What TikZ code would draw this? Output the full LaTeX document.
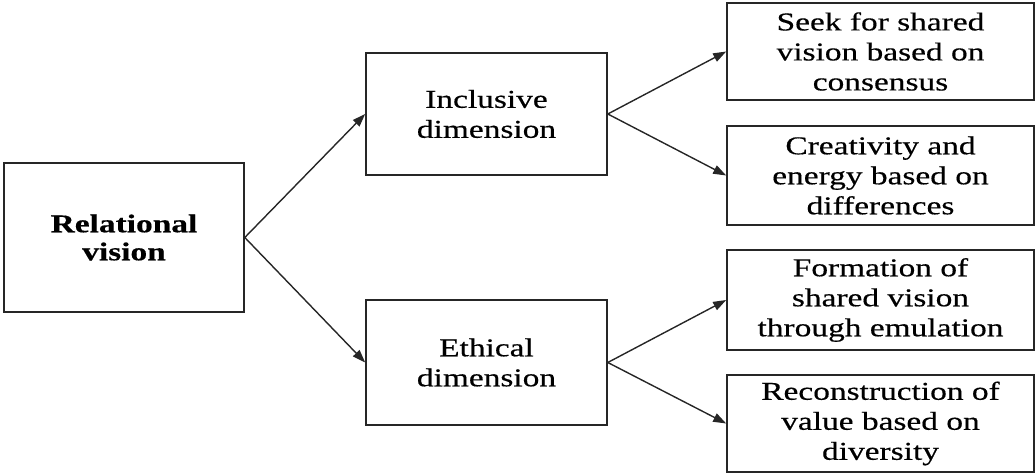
\documentclass[tikz,border=0pt]{standalone}
\usepackage{fontspec}
\setmainfont{Liberation Serif}[FakeStretch=1.3,FakeBold=0.4]
\usetikzlibrary{arrows.meta}
\begin{document}
\begin{tikzpicture}[x=1pt,y=1pt,
  box/.style={draw=black!85, line width=1.6pt, inner sep=0pt, align=center,
    font=\fontsize{25.7}{30}\selectfont},
  link/.style={draw=black!85, line width=1.4pt, -{Triangle[length=13pt,width=9pt]}}]
\useasboundingbox (0,0) rectangle (1036,474);
% root
\node[box, minimum width=240, minimum height=149, font=\fontsize{25.7}{28}\selectfont\bfseries]
  (rel) at (124,236.5) {Relational\\vision};
% dimensions
\node[box, minimum width=241, minimum height=122] (inc) at (486.5,360) {Inclusive\\dimension};
\node[box, minimum width=241, minimum height=125] (eth) at (486.5,111.5) {Ethical\\dimension};
% outcomes
\node[box, minimum width=307, minimum height=97] (b1) at (880.5,422.5) {Seek for shared\\vision based on\\consensus};
\node[box, minimum width=307, minimum height=99] (b2) at (880.5,298.5) {Creativity and\\energy based on\\differences};
\node[box, minimum width=307, minimum height=100] (b3) at (880.5,174) {Formation of\\shared vision\\through emulation};
\node[box, minimum width=307, minimum height=97] (b4) at (880.5,50.5) {Reconstruction of\\value based on\\diversity};
% connectors
\draw[link] (rel.east) -- (inc.west);
\draw[link] (rel.east) -- (eth.west);
\draw[link] (inc.east) -- (b1.west);
\draw[link] (inc.east) -- (b2.west);
\draw[link] (eth.east) -- (b3.west);
\draw[link] (eth.east) -- (b4.west);
\end{tikzpicture}
\end{document}
